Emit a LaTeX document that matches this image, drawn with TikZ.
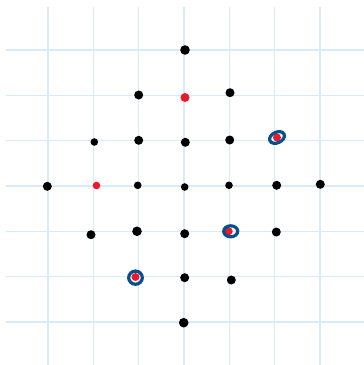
\documentclass[tikz,border=0pt]{standalone}
\definecolor{gridblue}{RGB}{214,236,250}
\definecolor{ringblue}{RGB}{8,80,140}
\definecolor{dotred}{RGB}{235,25,45}
\begin{document}
\begin{tikzpicture}[x=0.75pt,y=-0.75pt,
  gridline/.style={draw=gridblue,line width=1.2pt},
  bdot/.style={circle,fill=black,inner sep=0pt,minimum size=#1*1.5pt},
  rdot/.style={circle,fill=dotred,inner sep=0pt,minimum size=#1*1.5pt},
  ring/.style={draw=ringblue,line width=2.4pt}]
\useasboundingbox (0,0) rectangle (364,365);
\fill[white] (0,0) rectangle (364,365);
% grid
\foreach \k in {0,...,6}{
  \draw[gridline] ({48+45.33*\k},7) -- ({48+45.33*\k},365);
  \draw[gridline] (6,{50+45.33*\k}) -- (364,{50+45.33*\k});
}
% black dots
\node[bdot=4.8] (b1) at (185,50) {};
\node[bdot=4.5] (b2) at (138.7,95) {};
\node[bdot=4.5] (b3) at (230,92.7) {};
\node[bdot=3.8] (b4) at (94.3,142) {};
\node[bdot=4.5] (b5) at (138.7,140.3) {};
\node[bdot=4.5] (b6) at (185.3,142.3) {};
\node[bdot=4.5] (b7) at (229.7,140) {};
\node[bdot=4.5] (b8) at (47.3,186.3) {};
\node[bdot=3.8] (b9) at (137.7,185.3) {};
\node[bdot=3.8] (b10) at (184.7,187) {};
\node[bdot=3.8] (b11) at (229,185.3) {};
\node[bdot=4.5] (b12) at (276.7,185.3) {};
\node[bdot=4.5] (b13) at (320.3,184.3) {};
\node[bdot=4.5] (b14) at (91,234.7) {};
\node[bdot=4.8] (b15) at (137,231.3) {};
\node[bdot=4.5] (b16) at (184.7,233.7) {};
\node[bdot=4.5] (b17) at (276.3,232) {};
\node[bdot=4.5] (b18) at (184.7,277.7) {};
\node[bdot=4.5] (b19) at (231.3,280) {};
\node[bdot=4.8] (b20) at (183.7,322.7) {};
% red dots
\node[rdot=4.5] (r1) at (185,97.5) {};
\node[rdot=3.8] (r2) at (96.5,185.5) {};
\node[rdot=4] (r3) at (277,137.5) {};
\node[rdot=4] (r4) at (228.7,231.3) {};
\node[rdot=4] (r5) at (135.5,277) {};
% rings
\draw[ring,rotate around={25:(r3)}] (r3) ellipse [x radius=7.8, y radius=5.3];
\draw[ring] ([xshift=1.5]r4) ellipse [x radius=7, y radius=5.5];
\draw[ring] ([yshift=-0.5]r5) ellipse [x radius=6.8, y radius=6.6];
\end{tikzpicture}
\end{document}
